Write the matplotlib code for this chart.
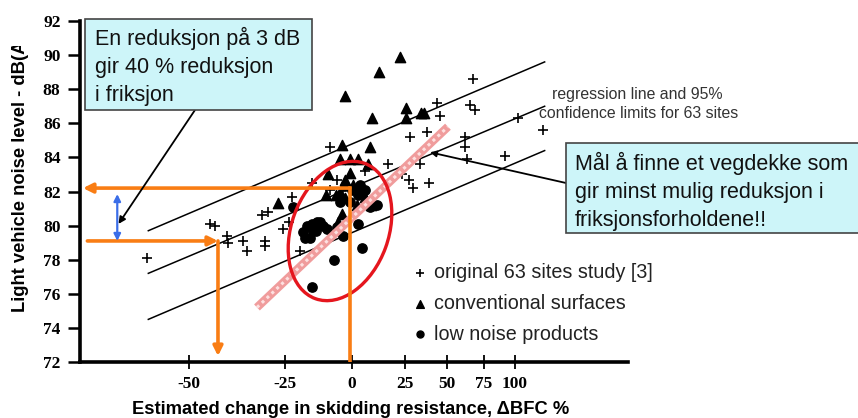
import numpy as np
import matplotlib
matplotlib.use("Agg")
import matplotlib.pyplot as plt
from matplotlib.patches import Rectangle, Ellipse

# ------------------------------------
# Data: change in skidding resistance (dBFC %) vs noise level dB(A)
# ------------------------------------
sites_bfc = [-58.2, -45.4, -44.2, -41.3, -41.0, -37.1, -36.0, -31.0, -31.0, -31.8,
             -30.1, -25.4, -23.5, -22.6, -19.9, -15.7, -8.9, -6.2, -8.9, 5.8,
             16.6, 23.8, 27.5, 29.7, 38.8, 33.6, 28.0, 37.7, 45.4, 43.6,
             65.3, 68.9, 67.4, 102.7, 125.5, 61.9, 61.9, 63.2, 91.8]
sites_db = [78.1, 80.1, 80.0, 79.4, 79.0, 79.1, 78.5, 79.1, 78.8, 80.6,
            80.8, 79.8, 80.2, 81.7, 78.5, 82.5, 84.6, 82.7, 82.1, 83.2,
            83.6, 83.0, 82.7, 82.2, 82.5, 83.6, 85.2, 85.5, 86.4, 87.2,
            87.1, 86.8, 88.6, 86.3, 85.6, 85.2, 84.6, 83.9, 84.1]

conv_bfc = [22.7, 12.2, -2.9, 25.9, 8.9, 25.9, 34.2, 36.0, -4.2, 8.0,
            -5.0, -0.85, 2.6, -9.7, -0.85, -2.9, 0.45, 3.9, -5.0, 2.2,
            8.5, -4.2, -27.0, -5.8, -6.6, 5.8, -10.6, -2.9, 7.1]
conv_db = [89.9, 89.0, 87.6, 86.9, 86.3, 86.3, 86.6, 86.6, 84.7, 84.6,
           83.9, 83.9, 83.9, 83.0, 83.1, 82.7, 82.4, 82.1, 82.0, 81.2,
           81.2, 80.7, 81.3, 80.2, 81.8, 81.7, 81.8, 81.6, 83.6]

lownoise_bfc = [-22.3, 2.6, 7.1, 8.0, 11.2, 2.6, -3.8, 4.3, -7.4, -15.7,
                -18.9, -17.5, -15.7, -13.9, -12.7, -11.6, -10.1, -16.4, -18.2, -15.3,
                -6.2, -0.85, -5.0, 3.5, 0.0, 5.8, -2.9, -14.2]
lownoise_db = [81.1, 81.8, 81.4, 81.1, 81.2, 80.1, 79.4, 78.7, 78.0, 76.4,
               79.6, 80.0, 80.1, 80.2, 80.2, 80.0, 79.8, 79.3, 79.3, 79.7,
               79.9, 81.4, 81.4, 82.4, 82.1, 82.1, 82.3, 79.7]

# regression line and 95% confidence limits (end points)
limit_bfc = [-58, 127]
upper_db = [79.7, 89.6]
middle_db = [77.2, 87.0]
lower_db = [74.5, 84.4]

# trend through the low noise products
trend_bfc = [-33.3, 50.4]
trend_db = [75.2, 85.8]

# 3 dB noise reduction read against friction change
ref_db = [82.2, 79.1]
ref_bfc = [-1.0, -43.5]

xticks = [-50, -25, 0, 25, 50, 75, 100]
yticks = list(range(72, 93, 2))

W, H = 858, 418
ORANGE = "#f97d14"
BLUE = "#3b6ee8"
RED = "#e5161e"
BOX = "#cdf5f9"


def fwd(x):
    x = np.asarray(x, dtype=float)
    return np.log10(np.maximum(1 + x / 100.0, 1e-6))


def inv(u):
    return 100.0 * (10 ** np.asarray(u, dtype=float) - 1)


def fpx(x, y):
    # pixel position (from top-left) -> figure fraction
    return x / W, 1 - y / H


# ------------------------------------
# Figure
# ------------------------------------
fig = plt.figure(figsize=(W / 100, H / 100), dpi=100)
ax = fig.add_axes([80 / W, 1 - 362 / H, 548 / W, 341 / H])
ax.set_xscale("function", functions=(fwd, inv))
ax.set_xlim(-68.6, 223.7)
ax.set_ylim(72, 92)

for side in ["top", "right"]:
    ax.spines[side].set_visible(False)
for side in ["left", "bottom"]:
    ax.spines[side].set_linewidth(2.6)

ax.set_xticks(xticks)
ax.set_xticklabels([str(t) for t in xticks])
ax.xaxis.set_minor_locator(matplotlib.ticker.NullLocator())
ax.set_yticks(yticks)
ax.set_yticklabels([str(t) for t in yticks])
ax.tick_params(axis="y", direction="out", length=9, width=1.8, pad=5)
ax.tick_params(axis="x", direction="inout", length=10, width=1.3, pad=5)
for lbl in ax.get_xticklabels() + ax.get_yticklabels():
    lbl.set_fontfamily("Liberation Serif")
    lbl.set_fontweight("bold")
    lbl.set_fontsize(12.5)

# confidence lines
for db in [upper_db, middle_db, lower_db]:
    ax.plot(limit_bfc, db, color="black", lw=1.1, zorder=2)

# scatter
h1 = ax.scatter(sites_bfc, sites_db, marker="+", s=55, c="black",
                linewidths=1.2, zorder=3, label="original 63 sites study [3]")
h2 = ax.scatter(conv_bfc, conv_db, marker="^", s=55, c="black",
                zorder=3, label="conventional surfaces")
h3 = ax.scatter(lownoise_bfc, lownoise_db, marker="o", s=45, c="black",
                zorder=3, label="low noise products")

# hatched trend band
ax.plot(trend_bfc, trend_db, color="#f09c9c", lw=6, zorder=4,
        solid_capstyle="butt")
ax.plot(trend_bfc, trend_db, color="#fde0e0", lw=2.2, zorder=4,
        linestyle=(0, (1, 1.2)))

# red ellipse
ell = Ellipse((340 / 100, (H - 231) / 100), 1.44, 0.97, angle=70,
              transform=fig.dpi_scale_trans, fill=False, ec=RED, lw=2.4,
              zorder=5)
ax.add_patch(ell)

# orange read-off arrows
aprops = dict(arrowstyle="-|>", color=ORANGE, lw=2.6, mutation_scale=14,
              shrinkA=0, shrinkB=0)
ax.annotate("", xy=(-68.2, ref_db[0]), xytext=(ref_bfc[0], ref_db[0]),
            arrowprops=aprops, zorder=6)
ax.plot([ref_bfc[0], ref_bfc[0]], [ref_db[0], 72], color=ORANGE, lw=2.6,
        zorder=6)
ax.annotate("", xy=(ref_bfc[1], ref_db[1]), xytext=(-67.6, ref_db[1]),
            arrowprops=aprops, zorder=6)
ax.annotate("", xy=(ref_bfc[1], 72.35), xytext=(ref_bfc[1], ref_db[1]),
            arrowprops=aprops, zorder=6)

# blue 3 dB span
ax.annotate("", xy=(-63.2, 81.85), xytext=(-63.2, ref_db[1]),
            arrowprops=dict(arrowstyle="<|-|>", color=BLUE, lw=1.6,
                            mutation_scale=10, shrinkA=0, shrinkB=0),
            zorder=6)

# legend
leg = ax.legend(handles=[h1, h2, h3], loc="upper left",
                bbox_to_anchor=fpx(412, 263), bbox_transform=fig.transFigure,
                frameon=False, handlelength=0.8, handletextpad=0.3,
                labelspacing=0.6, markerscale=0.75, borderpad=0,
                borderaxespad=0,
                prop={"family": "Liberation Sans", "size": 14.2})
for t in leg.get_texts():
    t.set_color("#222222")

# ------------------------------------
# Axis labels
# ------------------------------------
fig.text(*fpx(351, 410), "Estimated change in skidding resistance, \u0394BFC %",
         ha="center", va="center", fontsize=13.2, fontweight="bold",
         family="Liberation Sans")
fig.text(*fpx(21, 312), "Light vehicle noise level - dB(A)",
         rotation=90, ha="center", va="bottom", fontsize=13.2,
         fontweight="bold", family="Liberation Sans")
# top of the y label is hidden behind a blank strip
fig.add_artist(Rectangle(fpx(2, 46), 38 / W, 46 / H, transform=fig.transFigure,
                         fc="white", ec="none", zorder=9))

fig.text(*fpx(552, 95), "regression line and 95%", ha="left", va="center",
         fontsize=11.4, color="#333333", family="Liberation Sans")
fig.text(*fpx(539, 113), "confidence limits for 63 sites", ha="left",
         va="center", fontsize=11.4, color="#333333", family="Liberation Sans")

# ------------------------------------
# Comment boxes
# ------------------------------------
x0, y0 = fpx(85, 110)
fig.add_artist(Rectangle((x0, y0), 227 / W, 91 / H, transform=fig.transFigure,
                         fc=BOX, ec="#444444", lw=1.2, zorder=7))
fig.text(*fpx(95, 27), "En reduksjon på 3 dB\ngir 40 % reduksjon\ni friksjon",
         ha="left", va="top", fontsize=15.5, linespacing=1.42,
         family="Liberation Sans", color="#111111", zorder=8)
ax.annotate("", xy=(-63.0, 80.1), xycoords="data", xytext=(195, H - 110),
            textcoords="figure pixels",
            arrowprops=dict(arrowstyle="-|>", color="black", lw=1.3,
                            mutation_scale=10, shrinkA=0, shrinkB=0),
            zorder=6)

x0, y0 = fpx(566, 233)
fig.add_artist(Rectangle((x0, y0), 300 / W, 90 / H, transform=fig.transFigure,
                         fc=BOX, ec="#444444", lw=1.2, zorder=7))
fig.text(*fpx(575, 152),
         "Mål å finne et vegdekke som\ngir minst mulig reduksjon i\nfriksjonsforholdene!!",
         ha="left", va="top", fontsize=15.5, linespacing=1.42,
         family="Liberation Sans", color="#111111", zorder=8)
ax.annotate("", xy=(39.4, 84.3), xycoords="data", xytext=(566, H - 183),
            textcoords="figure pixels",
            arrowprops=dict(arrowstyle="-|>", color="black", lw=1.3,
                            mutation_scale=9, shrinkA=0, shrinkB=0),
            zorder=6, annotation_clip=False)

fig.savefig("out.png", dpi=100)
